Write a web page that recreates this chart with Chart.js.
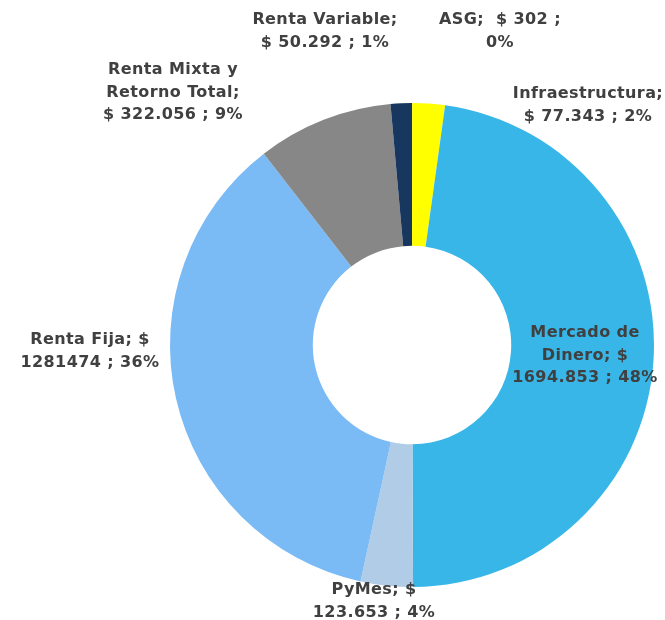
<!DOCTYPE html>
<html>
<head>
<meta charset="utf-8">
<script src="https://cdn.jsdelivr.net/npm/chart.js@4"></script>
<style>
  html, body { margin: 0; padding: 0; background: #fff; }
  #wrap { width: 665px; height: 620px; position: relative; }
</style>
</head>
<body>
<div id="wrap"><canvas id="myChart"></canvas></div>
<script>
// data
const categorias = ['ASG', 'Infraestructura', 'Mercado de Dinero', 'PyMes', 'Renta Fija', 'Renta Mixta y Retorno Total', 'Renta Variable'];
const montos = [302, 77343, 1694853, 123653, 1281474, 322056, 50292];
const etiquetas = [
    ['ASG;  $ 302 ;', '0%'],
    ['Infraestructura;', '$ 77.343 ; 2%'],
    ['Mercado de', 'Dinero; $', '1694.853 ; 48%'],
    ['PyMes; $', '123.653 ; 4%'],
    ['Renta Fija; $', '1281474 ; 36%'],
    ['Renta Mixta y', 'Retorno Total;', '$ 322.056 ; 9%'],
    ['Renta Variable;', '$ 50.292 ; 1%']
];
const colores = ['#5B9BD5', '#FFFF00', '#38B6E8', '#B0CCE6', '#7ABAF5', '#878787', '#17375E'];

// posicion de cada etiqueta (centro de la primera linea)
const posEtiquetas = [
    [500, 20], [588, 94], [585, 333], [374, 590], [90, 340], [173, 70], [325, 20]
];

const etiquetasPlugin = {
    id: 'etiquetas',
    afterDraw(chart) {
        const c = chart.ctx;
        c.save();
        c.font = 'bold 16px "DejaVu Sans"';
        c.letterSpacing = '0.4px';
        c.fillStyle = '#404040';
        c.textAlign = 'center';
        c.textBaseline = 'middle';
        etiquetas.forEach((lineas, i) => {
            const p = posEtiquetas[i];
            lineas.forEach((t, j) => c.fillText(t, p[0], p[1] + j * 22.5));
        });
        c.restore();
    }
};

document.addEventListener('DOMContentLoaded', function() {
    const ctx = document.getElementById('myChart');
    if (ctx) {
        new Chart(ctx, {
            type: 'doughnut',
            data: {
                labels: categorias,
                datasets: [{
                    data: montos,
                    backgroundColor: colores,
                    borderWidth: 0
                }]
            },
            options: {
                responsive: true,
                maintainAspectRatio: false,
                animation: false,
                cutout: '41%',
                layout: {
                    padding: { left: 170, right: 11, top: 103, bottom: 33 }
                },
                plugins: {
                    legend: { display: false },
                    tooltip: { enabled: false }
                }
            },
            plugins: [etiquetasPlugin]
        });
    }
});
</script>
</body>
</html>
